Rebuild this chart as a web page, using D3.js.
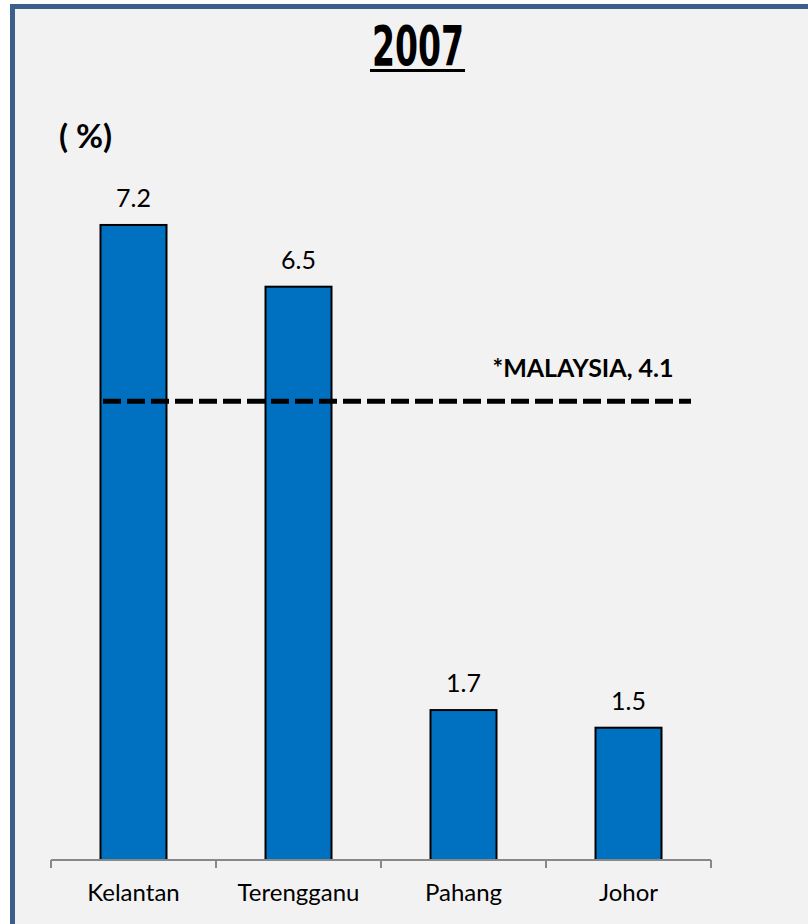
<!DOCTYPE html>
<html>
<head>
<meta charset="utf-8">
<script src="https://cdn.jsdelivr.net/npm/d3@7"></script>
<style>
  html, body { margin: 0; padding: 0; background: #F2F2F2; overflow: hidden; }
  svg { display: block; }
</style>
</head>
<body>
<svg id="chart" width="808" height="924"></svg>
<script>
const categories = ["Kelantan", "Terengganu", "Pahang", "Johor"];
const values = [7.2, 6.5, 1.7, 1.5];
const valueLabels = ["7.2", "6.5", "1.7", "1.5"];
const title = "2007";
const unitLabel = "( %)";
const refLabel = "*MALAYSIA, 4.1";
const refLinePosition = [5.2]; // where the reference line is drawn in the original

const svg = d3.select("#chart");
const W = 808, H = 924;
const font = "Lato, 'Open Sans', sans-serif";

// outer white margin + frame
svg.append("rect").attr("x", 0).attr("y", 0).attr("width", W).attr("height", H).attr("fill", "#ffffff");
svg.append("rect").attr("x", 12.5).attr("y", 6.5).attr("width", W + 100).attr("height", H + 100)
  .attr("fill", "#F2F2F2").attr("stroke", "#3B5E8C").attr("stroke-width", 5);

const x = d3.scaleBand().domain(categories).range([51, 711]).paddingInner(0.6).paddingOuter(0.3);
const y = d3.scaleLinear().domain([0, 8]).range([860, 860 - 8 * 88.2]);

// title
svg.append("text").attr("x", 418).attr("y", 65).attr("text-anchor", "middle")
  .attr("font-family", "'DejaVu Sans Condensed', 'DejaVu Sans', sans-serif")
  .attr("font-weight", "bold").attr("font-size", 56)
  .attr("textLength", 92).attr("lengthAdjust", "spacingAndGlyphs")
  .attr("fill", "#000").text(title);
svg.append("rect").attr("x", 370).attr("y", 69).attr("width", 95).attr("height", 3).attr("fill", "#000");

// unit label
svg.append("text").attr("x", 59).attr("y", 148)
  .attr("font-family", font).attr("font-weight", "bold").attr("font-size", 33)
  .attr("fill", "#000").text(unitLabel);

// bars
svg.append("g").selectAll("rect").data(values).join("rect")
  .attr("x", (d, i) => x(categories[i]))
  .attr("y", d => y(d))
  .attr("width", x.bandwidth())
  .attr("height", d => y(0) - y(d))
  .attr("fill", "#0070C0").attr("stroke", "#000").attr("stroke-width", 2);

// value labels
svg.append("g").selectAll("text").data(values).join("text")
  .attr("x", (d, i) => x(categories[i]) + x.bandwidth() / 2)
  .attr("y", d => y(d) - 18)
  .attr("text-anchor", "middle")
  .attr("font-family", font).attr("font-size", 25).attr("fill", "#000")
  .text((d, i) => valueLabels[i]);

// x axis
const xAxis = d3.axisBottom(x).tickSize(0).tickPadding(24);
const gx = svg.append("g").attr("transform", "translate(0,860)").call(xAxis);
gx.select(".domain").attr("stroke", "#888").attr("stroke-width", 2).attr("d", "M51,0H711");
gx.selectAll("text").attr("font-family", font).attr("font-size", 24).attr("fill", "#000");
// category boundary ticks
const tickXs = [51].concat(categories.map(c => x(c) + x.bandwidth() + (x.step() - x.bandwidth()) / 2));
svg.append("g").selectAll("line").data(tickXs).join("line")
  .attr("x1", d => d).attr("x2", d => d).attr("y1", 860).attr("y2", 868)
  .attr("stroke", "#888").attr("stroke-width", 2);

// reference line
svg.append("g").selectAll("line").data(refLinePosition).join("line")
  .attr("x1", 103).attr("x2", 691)
  .attr("y1", d => y(d)).attr("y2", d => y(d))
  .attr("stroke", "#000").attr("stroke-width", 5).attr("stroke-dasharray", "18,6");
svg.append("text").attr("x", 583).attr("y", y(refLinePosition[0]) - 24)
  .attr("text-anchor", "middle")
  .attr("font-family", font).attr("font-weight", "bold").attr("font-size", 25)
  .attr("fill", "#000").text(refLabel);
</script>
</body>
</html>
